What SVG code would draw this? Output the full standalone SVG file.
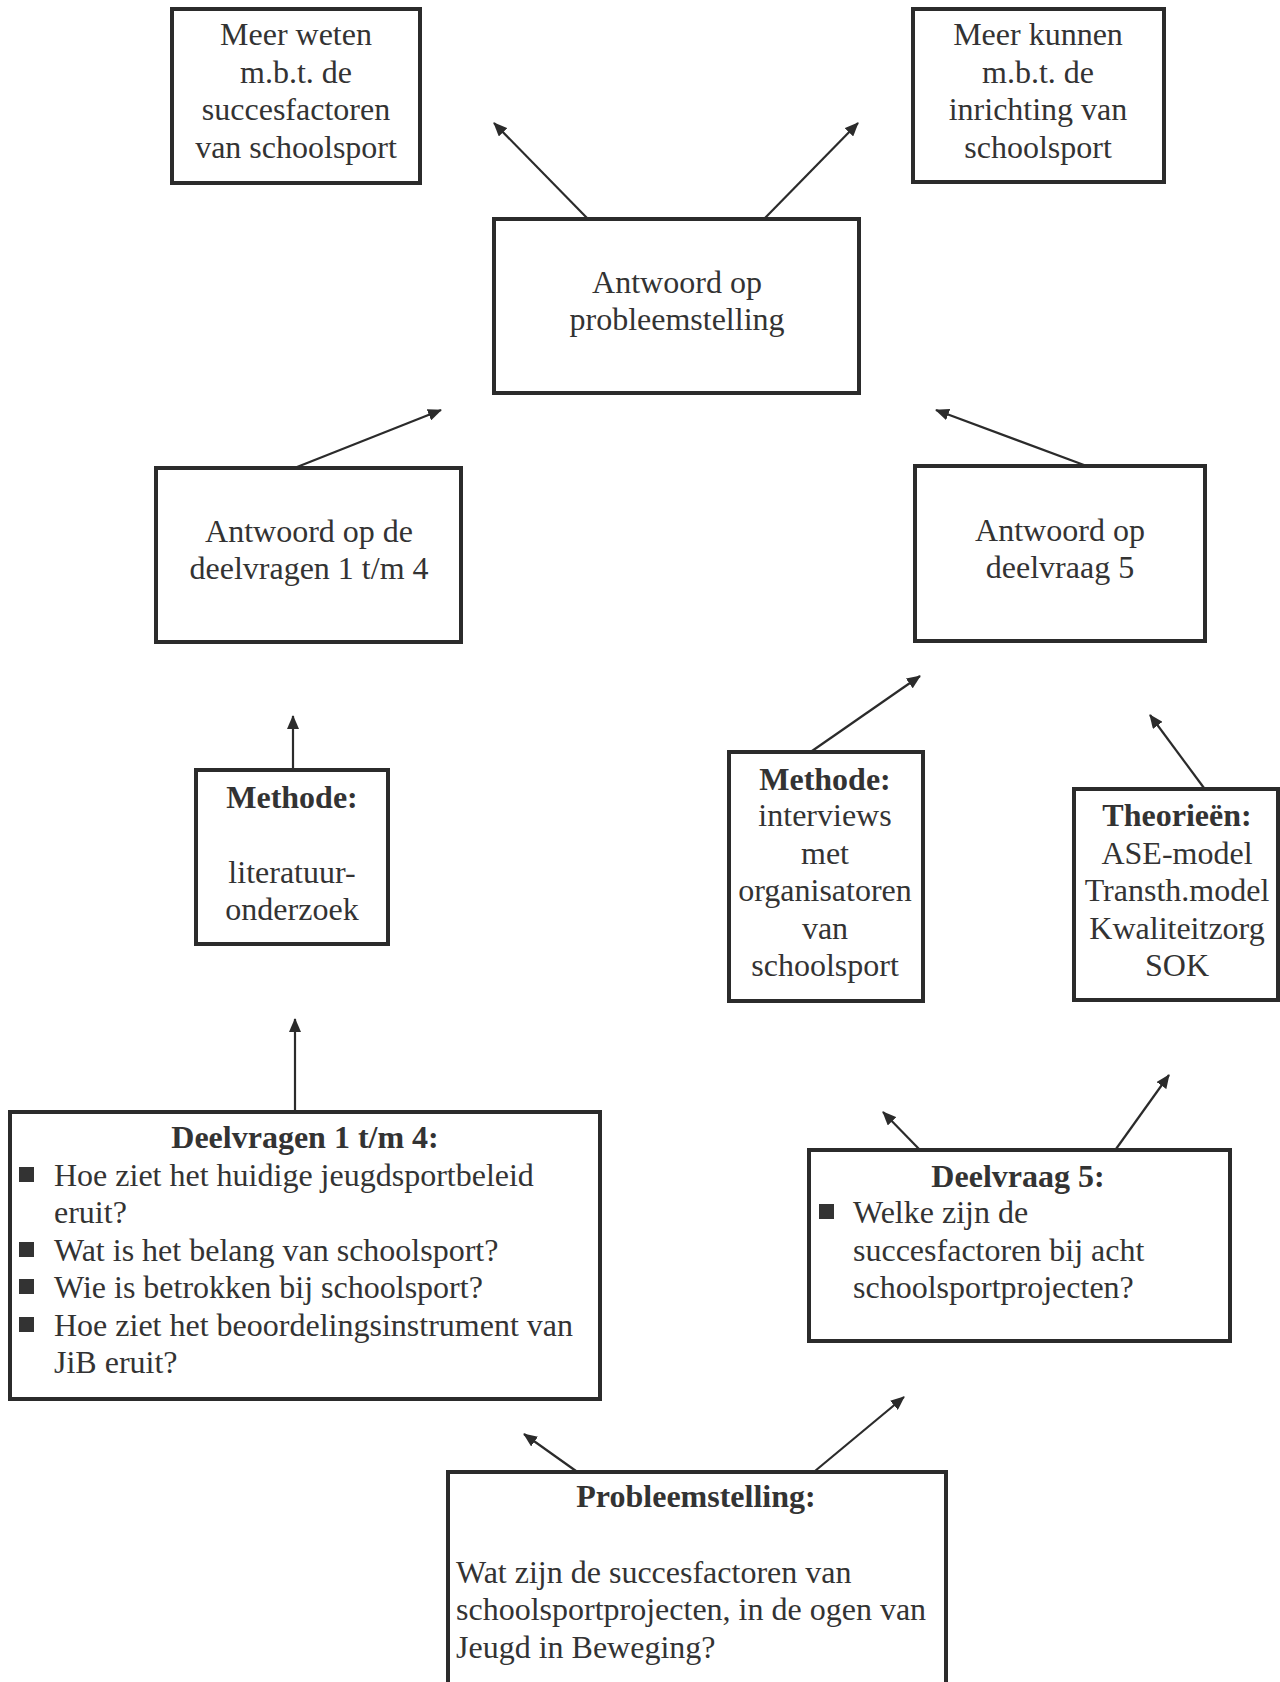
<svg xmlns="http://www.w3.org/2000/svg" width="1280" height="1682" viewBox="0 0 1280 1682">
<style>
.box{fill:none;stroke:#2b2b2b;stroke-width:4}
.t{font-family:"Liberation Serif","Times New Roman",serif;font-size:32px;fill:#333}
.c{text-anchor:middle}
.b{font-weight:bold}
.con line{stroke:#2b2b2b;stroke-width:2.2;marker-end:url(#ah)}
.bul{fill:#333}
</style>
<defs>
<marker id="ah" markerUnits="userSpaceOnUse" markerWidth="14" markerHeight="12" refX="13" refY="6" orient="auto">
<path d="M0,0 L14,6 L0,12 Z" fill="#2b2b2b"/>
</marker>
</defs>
<rect width="1280" height="1682" fill="#fff"/>

<g id="meer-weten">
<rect class="box" x="172" y="9" width="248" height="174"/>
<text class="t c" x="296"><tspan x="296" y="45">Meer weten</tspan><tspan x="296" y="83">m.b.t. de</tspan><tspan x="296" y="120">succesfactoren</tspan><tspan x="296" y="158">van schoolsport</tspan></text>
</g>

<g id="meer-kunnen">
<rect class="box" x="913" y="9" width="251" height="173"/>
<text class="t c"><tspan x="1038" y="45">Meer kunnen</tspan><tspan x="1038" y="83">m.b.t. de</tspan><tspan x="1038" y="120">inrichting van</tspan><tspan x="1038" y="158">schoolsport</tspan></text>
</g>

<g id="antwoord-probleemstelling">
<rect class="box" x="494" y="219" width="365" height="174"/>
<text class="t c"><tspan x="677" y="293">Antwoord op</tspan><tspan x="677" y="330">probleemstelling</tspan></text>
</g>

<g id="antwoord-deelvragen">
<rect class="box" x="156" y="468" width="305" height="174"/>
<text class="t c"><tspan x="309" y="542">Antwoord op de</tspan><tspan x="309" y="579">deelvragen 1 t/m 4</tspan></text>
</g>

<g id="antwoord-deelvraag5">
<rect class="box" x="915" y="466" width="290" height="175"/>
<text class="t c"><tspan x="1060" y="541">Antwoord op</tspan><tspan x="1060" y="578">deelvraag 5</tspan></text>
</g>

<g id="methode-literatuur">
<rect class="box" x="196" y="770" width="192" height="174"/>
<text class="t c"><tspan class="b" x="292" y="808">Methode:</tspan><tspan x="292" y="883">literatuur-</tspan><tspan x="292" y="920">onderzoek</tspan></text>
</g>

<g id="methode-interviews">
<rect class="box" x="729" y="752" width="194" height="249"/>
<text class="t c"><tspan class="b" x="825" y="790">Methode:</tspan><tspan x="825" y="826">interviews</tspan><tspan x="825" y="864">met</tspan><tspan x="825" y="901">organisatoren</tspan><tspan x="825" y="939">van</tspan><tspan x="825" y="976">schoolsport</tspan></text>
</g>

<g id="theorieen">
<rect class="box" x="1074" y="789" width="204" height="211"/>
<text class="t c"><tspan class="b" x="1177" y="826">Theorieën:</tspan><tspan x="1177" y="864">ASE-model</tspan><tspan x="1177" y="901">Transth.model</tspan><tspan x="1177" y="939">Kwaliteitzorg</tspan><tspan x="1177" y="976">SOK</tspan></text>
</g>

<g id="deelvragen">
<rect class="box" x="10" y="1112" width="590" height="287"/>
<text class="t c b" x="305" y="1148">Deelvragen 1 t/m 4:</text>
<rect class="bul" x="19" y="1167" width="15" height="15"/>
<rect class="bul" x="19" y="1242" width="15" height="15"/>
<rect class="bul" x="19" y="1279" width="15" height="15"/>
<rect class="bul" x="19" y="1317" width="15" height="15"/>
<text class="t"><tspan x="54" y="1186">Hoe ziet het huidige jeugdsportbeleid</tspan><tspan x="54" y="1223">eruit?</tspan><tspan x="54" y="1261">Wat is het belang van schoolsport?</tspan><tspan x="54" y="1298">Wie is betrokken bij schoolsport?</tspan><tspan x="54" y="1336">Hoe ziet het beoordelingsinstrument van</tspan><tspan x="54" y="1373">JiB eruit?</tspan></text>
</g>

<g id="deelvraag5">
<rect class="box" x="809" y="1150" width="421" height="191"/>
<text class="t c b" x="1018" y="1187">Deelvraag 5:</text>
<rect class="bul" x="819" y="1204" width="15" height="15"/>
<text class="t"><tspan x="853" y="1223">Welke zijn de</tspan><tspan x="853" y="1261">succesfactoren bij acht</tspan><tspan x="853" y="1298">schoolsportprojecten?</tspan></text>
</g>

<g id="probleemstelling">
<rect class="box" x="448" y="1472" width="498" height="214"/>
<text class="t c b" x="696" y="1507">Probleemstelling:</text>
<text class="t"><tspan x="456" y="1583">Wat zijn de succesfactoren van</tspan><tspan x="456" y="1620">schoolsportprojecten, in de ogen van</tspan><tspan x="456" y="1658">Jeugd in Beweging?</tspan></text>
</g>

<g id="connectors" class="con">
<line x1="587" y1="218" x2="494" y2="123"/>
<line x1="765" y1="218" x2="858" y2="123"/>
<line x1="297" y1="467" x2="441" y2="410"/>
<line x1="1084" y1="465" x2="936" y2="410"/>
<line x1="293" y1="769" x2="293" y2="716"/>
<line x1="812" y1="751" x2="920" y2="676"/>
<line x1="1204" y1="788" x2="1150" y2="715"/>
<line x1="295" y1="1111" x2="295" y2="1019"/>
<line x1="919" y1="1149" x2="883" y2="1112"/>
<line x1="1116" y1="1149" x2="1169" y2="1075"/>
<line x1="576" y1="1471" x2="524" y2="1434"/>
<line x1="815" y1="1471" x2="904" y2="1397"/>
</g>
</svg>
